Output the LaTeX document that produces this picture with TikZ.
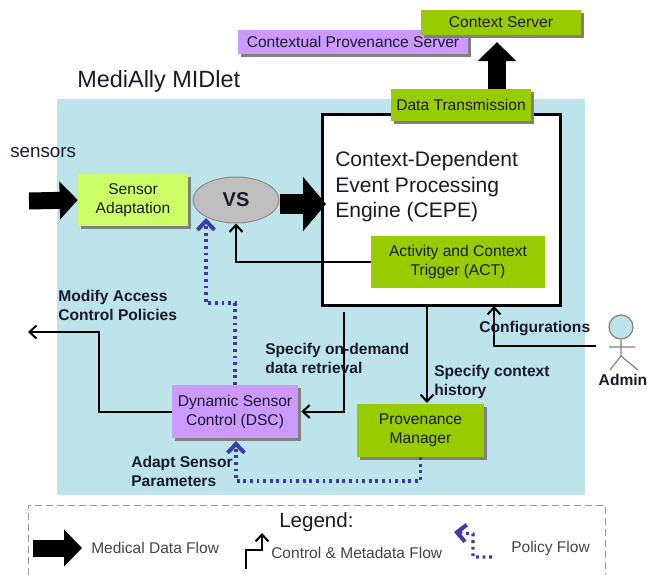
\documentclass[tikz,border=0pt]{standalone}
\usepackage{fontspec}
\setmainfont{Liberation Sans}
\usetikzlibrary{arrows.meta,shadows,shapes.geometric,calc}
\def\px{0.75pt}
\definecolor{panelc}{HTML}{BCE4EA}
\definecolor{greenc}{HTML}{99CC00}
\definecolor{limec}{HTML}{CCFF66}
\definecolor{purplec}{HTML}{CC99FF}
\definecolor{polc}{HTML}{3A3AA8}
\definecolor{txtc}{HTML}{1A1A2A}
\definecolor{legc}{HTML}{4A4048}
\tikzset{
 sh/.style={drop shadow={shadow xshift=3*\px,shadow yshift=-3*\px,opacity=1,fill=black!50}},
 boxt/.style={align=center,inner sep=0pt,text=txtc,font=\fontsize{11.7}{14.3}\selectfont},
 gbox/.style={boxt,fill=greenc,sh},
 lbox/.style={boxt,fill=limec,sh},
 pbox/.style={boxt,fill=purplec,sh},
 lab/.style={anchor=west,align=left,inner sep=0pt,text=txtc,font=\fontsize{11.7}{14.3}\selectfont\bfseries},
 legt/.style={anchor=west,inner sep=0pt,text=legc,font=\fontsize{11.65}{14}\selectfont},
 ctl/.style={draw=black,line width=2*\px,-{Straight Barb[length=7*\px,width=13*\px,line width=2*\px]}},
 pol/.style={draw=polc,line width=3.2*\px,dash pattern=on 2.8*\px off 3.8*\px,-{Straight Barb[length=9*\px,width=17*\px,line width=4*\px]}},
 med/.style={line width=#1*\px,draw=black},
}
\begin{document}
\begin{tikzpicture}[x=0.75pt,y=-0.75pt]
\useasboundingbox (0,0) rectangle (647,575);
% panel
\node[fill=panelc,inner sep=0pt,minimum width=528*\px,minimum height=396*\px] (panel) at (321,297) {};
% title
\node[anchor=west,inner sep=0pt,text=txtc,font=\fontsize{17.6}{20}\selectfont] (title) at (77,81.5) {MediAlly MIDlet};
\node[anchor=west,inner sep=0pt,text=txtc,font=\fontsize{14.1}{16}\selectfont] (sensors) at (10,153) {sensors};
% CEPE
\node[draw=black,fill=white,line width=3*\px,inner sep=0pt,minimum width=238*\px,minimum height=191*\px] (cepe) at (441,209.5) {};
\node[anchor=west,align=left,inner sep=0pt,text=txtc,font=\fontsize{15.8}{19.1}\selectfont] (cepet) at (335,187) {Context-Dependent\\Event Processing\\Engine (CEPE)};
% servers
\node[pbox,minimum width=230*\px,minimum height=24*\px] (cps) at (353,42) {\raisebox{-1pt}{Contextual Provenance Server}};
\node[gbox,minimum width=160*\px,minimum height=25*\px] (cs) at (501,22.5) {\raisebox{-1pt}{Context Server}};
% coordinates
\coordinate (dtout) at (497,92);
\coordinate (csin) at (497,42);
\coordinate (sin) at (29,201);
\coordinate (cepeout) at (344,312);
\coordinate (dscout) at (99,332);
\coordinate (acout) at (28,332);
\coordinate (cfgin) at (494,306);
\coordinate (hand) at (596,346);
\coordinate (cepepm) at (427,305);
\coordinate (pmin) at (427,403);
\coordinate (dotb) at (206,303);
\coordinate (vsdot) at (206,218);
\coordinate (dscdot) at (236,441);
\coordinate (dotc) at (236,481);
\coordinate (cepein) at (326,204);
% up arrow
\draw[med=18,-{Triangle[length=19*\px,width=37*\px]}] (dtout) -- (csin);
\node[gbox,minimum width=140*\px,minimum height=32*\px] (dt) at (461,105) {\raisebox{-1pt}{Data Transmission}};
% left nodes
\node[lbox,minimum width=110*\px,minimum height=52*\px] (sa) at (133,200) {Sensor\\Adaptation};
\node[ellipse,draw=black!45,fill=black!25,line width=1*\px,inner sep=0pt,minimum width=86*\px,minimum height=46*\px,text=txtc,font=\fontsize{15}{16}\selectfont\bfseries] (vs) at (236,200) {VS};
\node[boxt,fill=greenc,minimum width=174*\px,minimum height=52*\px] (act) at (458,262) {Activity and Context\\Trigger (ACT)};
\node[pbox,minimum width=126*\px,minimum height=53*\px] (dsc) at (235,411.5) {Dynamic Sensor\\Control (DSC)};
\node[gbox,minimum width=127*\px,minimum height=53*\px] (pm) at (420.5,430.5) {Provenance\\Manager};
% medical flow
\draw[med=17,-{Triangle[length=18*\px,width=37*\px]}] (sin) -- (sa.west);
\draw[med=20,-{Triangle[length=23*\px,width=53*\px]}] (vs.east |- cepein) -- (cepein);
% control flow
\draw[ctl,line width=1.5*\px] (act.west) -| (vs.south);
\draw[ctl] (dsc.west) -| (dscout) -- (acout);
\draw[ctl,shorten >=3*\px] (cepeout) |- (dsc.east);
\draw[ctl,line width=1.5*\px] (cepepm) -- (pmin);
\draw[ctl] (hand) -| (cfgin);
% policy flow
\draw[pol] (dsc.north) |- (dotb) -- (vsdot);
\draw[pol] (pm.south) |- (dotc) -- (dscdot);
% labels
\node[lab] (l1) at (58,305) {Modify Access\\Control Policies};
\node[lab] (l2) at (265,358) {Specify on-demand\\data retrieval};
\node[lab] (l3) at (434,381.5) {Specify context\\history};
\node[lab] (l4) at (131,471) {Adapt Sensor\\Parameters};
\node[lab] (l5) at (479,328) {Configurations};
% actor
\node[circle,draw=black!50,fill=panelc,line width=1.2*\px,inner sep=0pt,minimum size=24*\px] (head) at (621,327) {};
\coordinate (hip) at (621,356);
\coordinate (armL) at (609,347);
\coordinate (armR) at (635,347);
\coordinate (legL) at (610,370);
\coordinate (legR) at (638,370);
\draw[draw=black!50,line width=1.2*\px] (head.south) -- (hip) (armL) -- (armR) (legL) -- (hip) -- (legR);
\node[lab,anchor=center] (admin) at (623,380) {Admin};
% legend
\coordinate (lgA) at (28,575);
\coordinate (lgB) at (28,505);
\coordinate (lgC) at (605,505);
\coordinate (lgD) at (605,575);
\draw[draw=black!40,line width=1*\px,dash pattern=on 7*\px off 4*\px] (lgA) -- (lgB) -- (lgC) -- (lgD);
\node[anchor=west,inner sep=0pt,text=txtc,font=\fontsize{15.4}{18}\selectfont] (legend) at (279,522) {Legend:};
\coordinate (m1) at (33,548);
\coordinate (m2) at (82,548);
\draw[med=17,-{Triangle[length=18*\px,width=36*\px]}] (m1) -- (m2);
\node[legt] (t1) at (91,548) {Medical Data Flow};
\coordinate (c1) at (246,569);
\coordinate (c2) at (246,550);
\coordinate (c3) at (262,550);
\coordinate (c4) at (262,533);
\draw[ctl] (c1) -- (c2) -- (c3) -- (c4);
\node[legt] (t2) at (271,553) {Control \& Metadata Flow};
\coordinate (p1) at (492,557);
\coordinate (p2) at (473,557);
\coordinate (p3) at (473,534);
\coordinate (p4) at (454,532);
\draw[pol] (p1) -- (p2) -- (p3) -- (p4);
\node[legt] (t3) at (511,548) {Policy Flow};
\end{tikzpicture}
\end{document}
